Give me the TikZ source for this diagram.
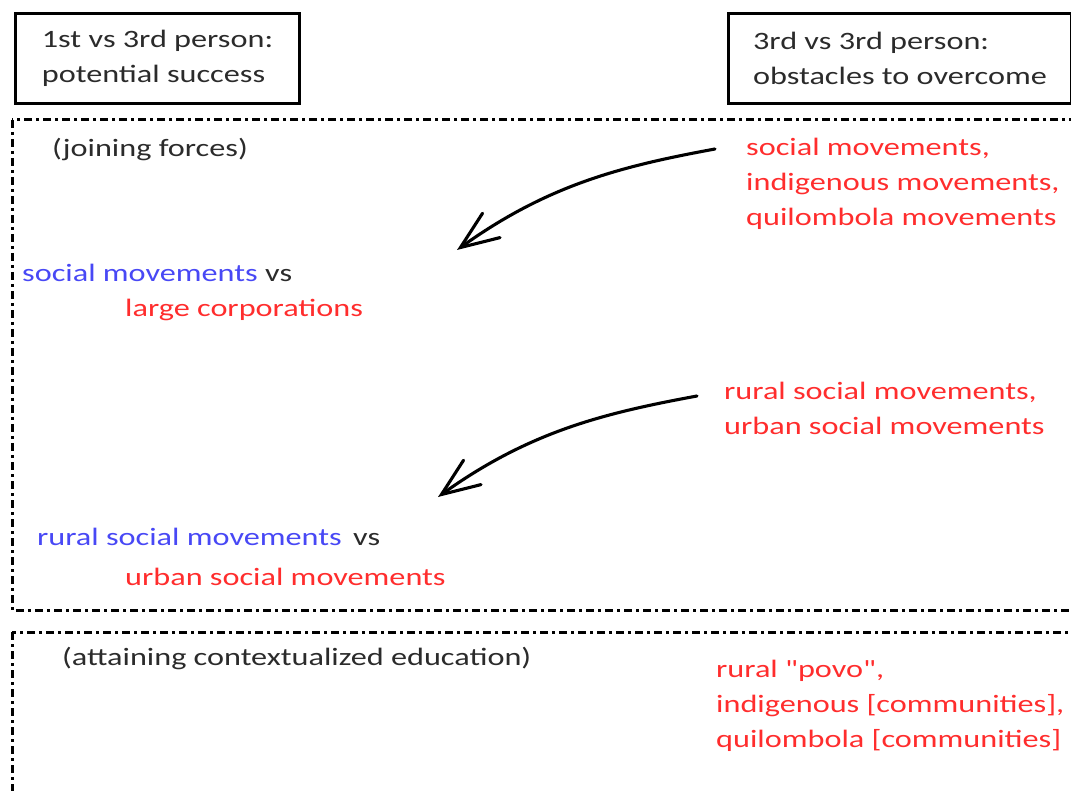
\documentclass[tikz,border=0pt]{standalone}
\usepackage{fontspec}
\setmainfont{Carlito}[FakeStretch=1.29,Ligatures=TeXOff]
\usetikzlibrary{arrows.meta}
\definecolor{txtgray}{RGB}{43,43,43}
\definecolor{obsred}{RGB}{255,45,45}
\definecolor{ownblue}{RGB}{72,72,245}
\begin{document}
\begin{tikzpicture}[x=1pt,y=-1pt,
  every node/.style={inner sep=0pt,font=\fontsize{25}{35}\selectfont,text=txtgray,align=left},
  headbox/.style={draw=black,line width=3pt,anchor=north west,
    minimum height=90pt,minimum width=#1},
  frame/.style={draw=black,line width=3pt,dash pattern=on 8pt off 4pt on 3pt off 4pt},
  lbl/.style={anchor=base west},
  obst/.style={anchor=base west,text=obsred},
  arr/.style={line width=3.1pt,line cap=round,-{Straight Barb[length=38pt,width=30pt,line cap=round]}}]

\clip (0,0) rectangle (1071,791);

% headings
\node[headbox=284pt] (succ) at (14,12) {1st vs 3rd person:\\potential success};
\node[headbox=343pt] (obst) at (727,12) {3rd vs 3rd person:\\obstacles to overcome};

% dash-dotted frames
\draw[frame] (12,120) rectangle (1090,610);
\draw[frame] (12,632) rectangle (1090,810);

% joining forces (base = last line)
\node[lbl] (join) at (52,157) {(joining forces)};
\node[obst] (mov) at (746,226) {social movements,\\indigenous movements,\\quilombola movements};
\node[lbl] (smvs) at (22,282) {\textcolor{ownblue}{social movements} vs};
\node[obst] (corp) at (125,317) {large corporations};

\node[obst] (rural) at (724,435) {rural social movements,\\urban social movements};
\node[lbl] (rsvs) at (37,545) {\textcolor{ownblue}{rural social movements}\, vs};
\node[obst] (urb) at (125,585) {urban social movements};

\coordinate (a1s) at (715,149);
\coordinate (a1e) at (457,250);
\coordinate (a2s) at (697,396);
\coordinate (a2e) at (438,497);
\draw[arr] (a1s) .. controls +(-92,17) and +(92,-66) .. (a1e);
\draw[arr] (a2s) .. controls +(-92,17) and +(92,-66) .. (a2e);

% contextualized education
\node[lbl] (educ) at (62,665) {(attaining contextualized education)};
\node[obst] (povo) at (716,747) {rural "povo",\\indigenous [communities],\\quilombola [communities]};

\end{tikzpicture}
\end{document}
